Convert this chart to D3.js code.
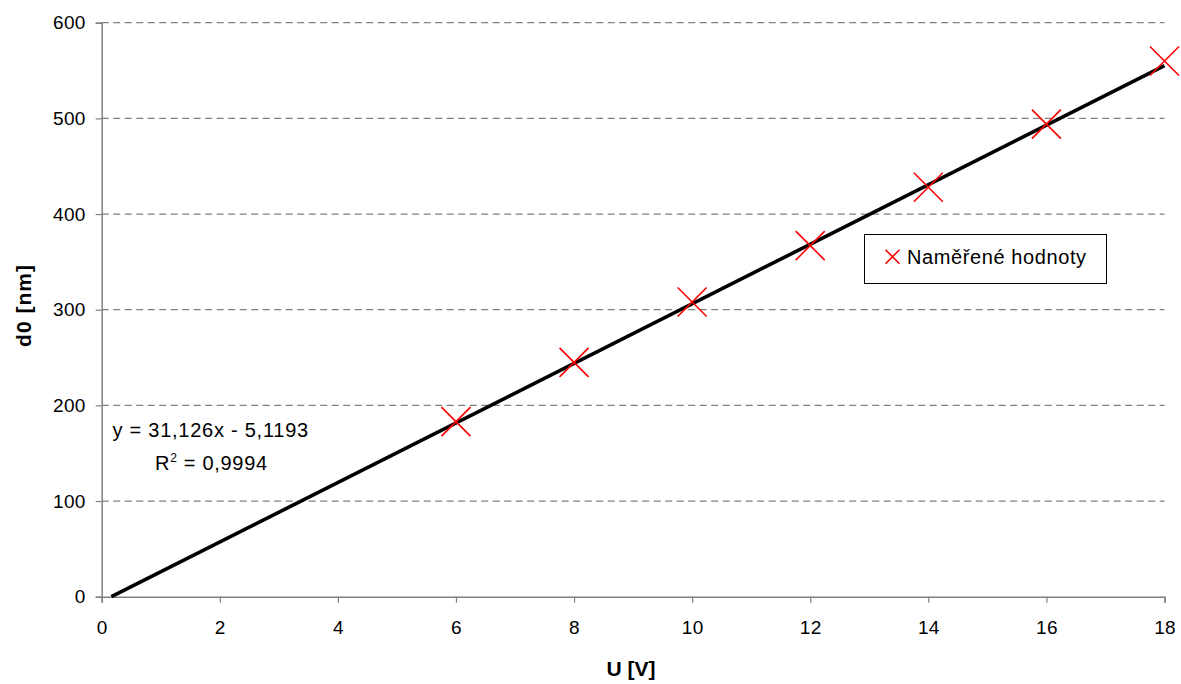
<!DOCTYPE html>
<html>
<head>
<meta charset="utf-8">
<script src="https://cdn.jsdelivr.net/npm/d3@7"></script>
<style>
  html, body { margin: 0; padding: 0; background: #fff; }
  svg { display: block; font-family: "Liberation Sans", Arial, sans-serif; }
</style>
</head>
<body>
<svg id="chart" width="1181" height="684"></svg>
<script>
// Measured voltage U [V] and thickness d0 [nm]
const voltages = [6, 8, 10, 12, 14, 16, 18];
const thickness = [183, 245, 308, 367, 428, 494, 560];
const xTicks = [0, 2, 4, 6, 8, 10, 12, 14, 16, 18];
const yTicks = [0, 100, 200, 300, 400, 500, 600];
// Linear trendline coefficients
const slope = 31.126;
const intercept = -5.1193;
const equationText = "y = 31,126x - 5,1193";
const r2Value = "0,9994";
const legendLabel = "Naměřené hodnoty";

const svg = d3.select("#chart");
const plotLeft = 101.7, plotRight = 1164.5, plotTop = 22.7, plotBottom = 596.7;

const x = d3.scaleLinear().domain([0, 18]).range([plotLeft, plotRight]);
const y = d3.scaleLinear().domain([0, 600]).range([plotBottom, plotTop]);

// Dashed horizontal gridlines
svg.append("g").selectAll("line")
  .data(yTicks.filter(d => d > 0))
  .join("line")
  .attr("x1", plotLeft).attr("x2", plotRight)
  .attr("y1", d => y(d)).attr("y2", d => y(d))
  .attr("stroke", "#808080").attr("stroke-width", 1.3)
  .attr("stroke-dasharray", "7,4.5");

// Axes
const xAxis = svg.append("g")
  .attr("transform", `translate(0,${plotBottom})`)
  .call(d3.axisBottom(x).tickValues(xTicks).tickSize(6).tickPadding(17.5).tickFormat(d3.format("d")));
const yAxis = svg.append("g")
  .attr("transform", `translate(${plotLeft},0)`)
  .call(d3.axisLeft(y).tickValues(yTicks).tickSize(6).tickPadding(10).tickFormat(d3.format("d")));

[xAxis, yAxis].forEach(a => {
  a.select(".domain").attr("stroke", "#808080").attr("stroke-width", 1.5);
  a.selectAll(".tick line").attr("stroke", "#808080").attr("stroke-width", 1.2);
  a.selectAll(".tick text").attr("fill", "#000").attr("font-size", 19)
    .attr("letter-spacing", 0.3)
    .attr("font-family", "Liberation Sans, Arial, sans-serif");
});

// Trendline, starting where it crosses zero
const xZero = -intercept / slope;
svg.append("line")
  .attr("x1", x(xZero)).attr("y1", y(slope * xZero + intercept))
  .attr("x2", x(18)).attr("y2", y(slope * 18 + intercept))
  .attr("stroke", "#000").attr("stroke-width", 3.6);

// Cross markers
function cross(g, cx, cy, h) {
  g.append("path")
    .attr("d", `M${cx - h},${cy - h}L${cx + h},${cy + h}M${cx - h},${cy + h}L${cx + h},${cy - h}`)
    .attr("stroke", "#ff0000").attr("stroke-width", 1.6).attr("fill", "none");
}
const marks = svg.append("g");
voltages.forEach((v, i) => cross(marks, x(v), y(thickness[i]), 14.5));

// Trendline equation
svg.append("text").attr("x", 112.5).attr("y", 437)
  .attr("font-size", 20).attr("letter-spacing", 0.75).text(equationText);
const r2 = svg.append("text").attr("x", 155).attr("y", 470)
  .attr("font-size", 20).attr("letter-spacing", 0.7);
r2.append("tspan").text("R");
r2.append("tspan").attr("font-size", 12).attr("dy", -8).text("2");
r2.append("tspan").attr("dy", 8).text(" = " + r2Value);

// Legend
svg.append("rect").attr("x", 864.5).attr("y", 234.5).attr("width", 242).attr("height", 49)
  .attr("fill", "#fff").attr("stroke", "#000").attr("stroke-width", 1);
cross(svg, 892.5, 256.7, 7);
svg.append("text").attr("x", 907).attr("y", 263.5).attr("font-size", 20)
  .attr("letter-spacing", 0.6).text(legendLabel);

// Axis titles
svg.append("text").attr("x", 631).attr("y", 676)
  .attr("text-anchor", "middle").attr("font-weight", "bold").attr("font-size", 21)
  .text("U [V]");
svg.append("text")
  .attr("transform", `translate(31,305.5) rotate(-90)`)
  .attr("text-anchor", "middle").attr("font-weight", "bold").attr("font-size", 21)
  .attr("letter-spacing", 1)
  .text("d0 [nm]");
</script>
</body>
</html>
